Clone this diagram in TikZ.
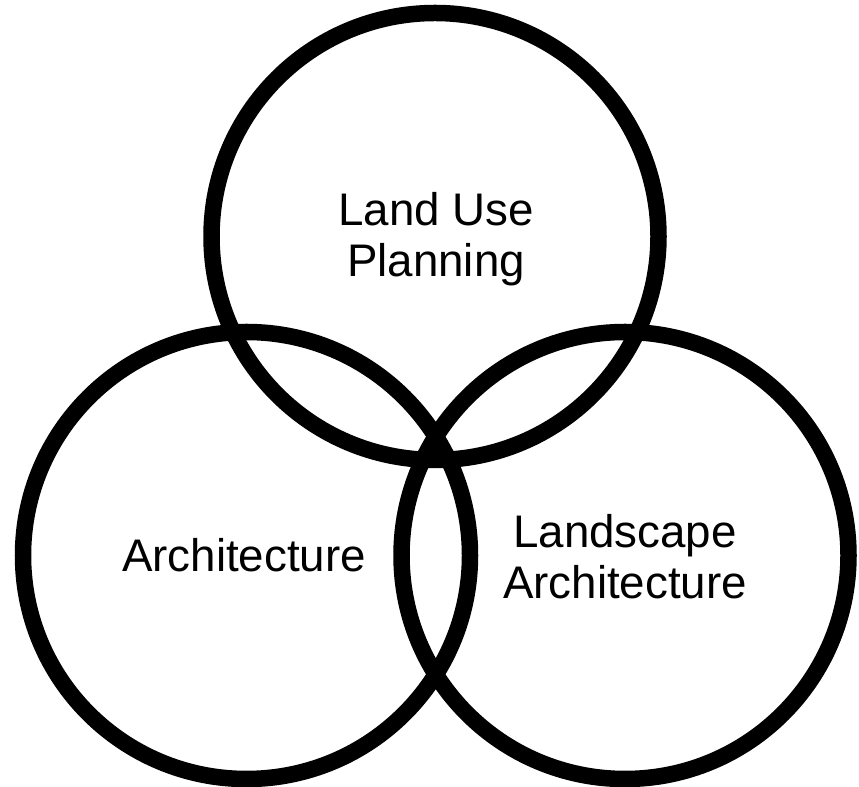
\documentclass[tikz,border=0pt]{standalone}
\usepackage{fontspec}
\setmainfont{Liberation Sans}
\usepackage{tikz}

\tikzset{
	ring/.style={line width=0.33cm, color=black},
	label/.style={font=\fontsize{26}{29}\selectfont, align=center, inner sep=0pt}
}

\begin{document}
\begin{tikzpicture}
		%%%%% START %%%%%
		\useasboundingbox (0, 0) rectangle (17.18, 15.74);
		
		% the three rings
		\draw[ring] (8.70, 11.01) circle (4.47);
		\draw[ring] (4.93, 4.63) circle (4.47);
		\draw[ring] (12.50, 4.63) circle (4.47);
		
		% labels
		\node[label] (planning) at (8.72, 10.96) {Land Use\\Planning};
		\node[label] (arch) at (4.88, 4.63) {Architecture};
		\node[label] (landarch) at (12.50, 4.60) {Landscape\\Architecture};
		
		%%%%% END %%%%%
	\end{tikzpicture}
\end{document}
